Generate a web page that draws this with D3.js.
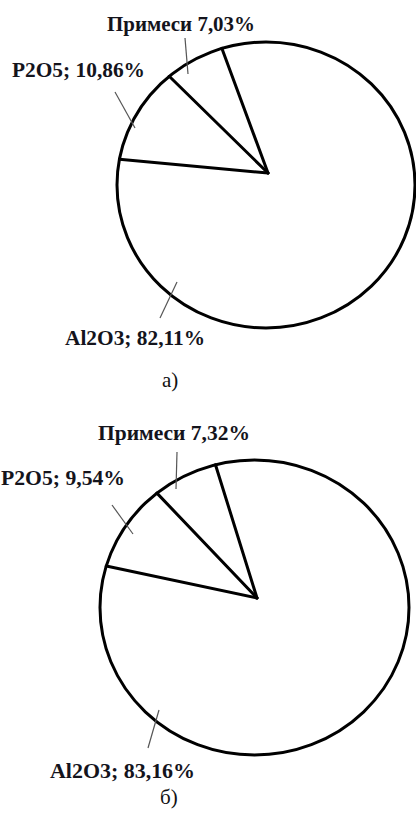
<!DOCTYPE html>
<html>
<head>
<meta charset="utf-8">
<script src="https://cdn.jsdelivr.net/npm/d3@7"></script>
<style>
  html, body { margin: 0; padding: 0; background: #fff; }
  svg { display: block; }
  .lbl { font-family: "Liberation Serif", "Times New Roman", serif; font-weight: bold; fill: #14141c; }
  .cap { font-family: "Liberation Serif", "Times New Roman", serif; fill: #111; }
</style>
</head>
<body>
<svg id="chart" width="416" height="819"></svg>
<script>
// data
var categories = ['Al2O3', 'P2O5', 'Примеси'];
var shareA = [82.11, 10.86, 7.03];
var shareB = [83.16, 9.54, 7.32];
var labelsA = ['Al2O3; 82,11%', 'P2O5; 10,86%', 'Примеси 7,03%'];
var labelsB = ['Al2O3; 83,16%', 'P2O5; 9,54%', 'Примеси 7,32%'];
var captions = ['а)', 'б)'];

// layout of the two hand drawn pies (outline is a bit off-centre from the apex)
var layout = [
    {
        values: shareA, labels: labelsA, caption: captions[0],
        cx: 266, cy: 185, rx: 149, ry: 143,
        apex: [268, 173],
        firstWedge: 275.3,   // angle where P2O5 wedge starts, deg clockwise from 12 o'clock
        text: [[65, 345, 140], [12, 77, 133], [107, 31, 148]],
        leader: [[177, 282, 160, 318], [115, 92, 135, 128], [185, 38, 188, 74]],
        capPos: [162, 387]
    },
    {
        values: shareB, labels: labelsB, caption: captions[1],
        cx: 254.5, cy: 607.5, rx: 154.5, ry: 147.5,
        apex: [257, 598],
        firstWedge: 282,
        text: [[50, 778, 145], [1, 485, 124], [98, 440, 152]],
        leader: [[159, 710, 148, 748], [112, 505, 133, 534], [177, 452, 176, 489]],
        capPos: [160, 804]
    }
];

var svg = d3.select('#chart');

// ray from apex at angle a (radians, d3 convention) until it meets the outline
function rimPoint(c, a){
    var dx = Math.sin(a), dy = -Math.cos(a);
    var u = (c.apex[0] - c.cx) / c.rx, v = (c.apex[1] - c.cy) / c.ry;
    var du = dx / c.rx, dv = dy / c.ry;
    var qa = du * du + dv * dv, qb = 2 * (u * du + v * dv), qc = u * u + v * v - 1;
    var t = (-qb + Math.sqrt(qb * qb - 4 * qa * qc)) / (2 * qa);
    return [c.apex[0] + t * dx, c.apex[1] + t * dy];
}

layout.forEach(function(c){
    var total = d3.sum(c.values);
    var start = c.firstWedge * Math.PI / 180 - 2 * Math.PI * c.values[0] / total;
    var pie = d3.pie().sort(null).startAngle(start).endAngle(start + 2 * Math.PI);
    var arcs = pie(c.values);

    var g = svg.append('g');

    g.append('ellipse')
        .attr('cx', c.cx).attr('cy', c.cy)
        .attr('rx', c.rx).attr('ry', c.ry)
        .attr('fill', '#fff')
        .attr('stroke', '#000')
        .attr('stroke-width', 3);

    // slice borders
    g.selectAll('line.edge')
        .data(arcs)
        .enter()
        .append('line')
        .attr('class', 'edge')
        .attr('x1', c.apex[0]).attr('y1', c.apex[1])
        .attr('x2', function(d){ return rimPoint(c, d.startAngle)[0]; })
        .attr('y2', function(d){ return rimPoint(c, d.startAngle)[1]; })
        .attr('stroke', '#000')
        .attr('stroke-width', 3)
        .attr('stroke-linecap', 'round');

    // leader ticks
    g.selectAll('line.leader')
        .data(c.leader)
        .enter()
        .append('line')
        .attr('class', 'leader')
        .attr('x1', function(d){ return d[0]; }).attr('y1', function(d){ return d[1]; })
        .attr('x2', function(d){ return d[2]; }).attr('y2', function(d){ return d[3]; })
        .attr('stroke', '#555')
        .attr('stroke-width', 1.2);

    g.selectAll('text.lbl')
        .data(c.labels)
        .enter()
        .append('text')
        .attr('class', 'lbl')
        .attr('x', function(d, i){ return c.text[i][0]; })
        .attr('y', function(d, i){ return c.text[i][1]; })
        .attr('font-size', 21)
        .attr('textLength', function(d, i){ return c.text[i][2]; })
        .attr('lengthAdjust', 'spacingAndGlyphs')
        .text(function(d){ return d; });

    g.append('text')
        .attr('class', 'cap')
        .attr('x', c.capPos[0]).attr('y', c.capPos[1])
        .attr('font-size', 21)
        .text(c.caption);
});
</script>
</body>
</html>
